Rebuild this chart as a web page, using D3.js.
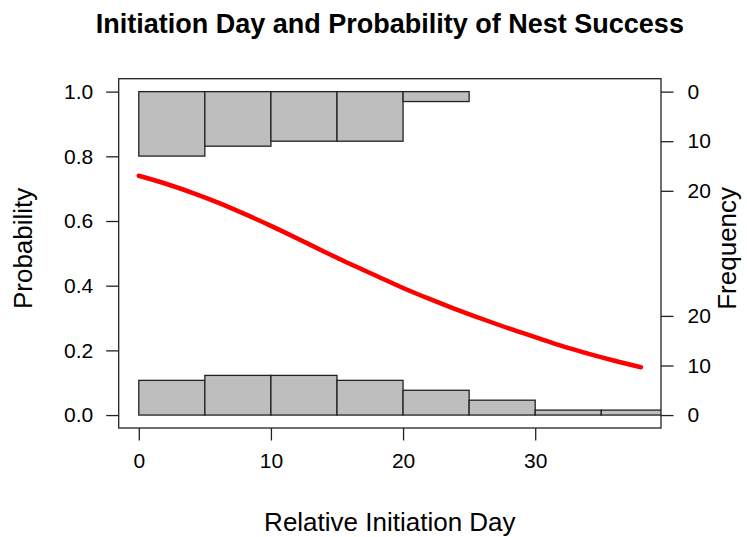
<!DOCTYPE html>
<html>
<head>
<meta charset="utf-8">
<script src="https://cdn.jsdelivr.net/npm/d3@7"></script>
<style>
  html, body { margin: 0; padding: 0; background: #fff; }
  svg { display: block; }
  text { font-family: "Liberation Sans", Arial, sans-serif; fill: #000; }
</style>
</head>
<body>
<script>
// ---- Data ----
const binEdges = [0, 5, 10, 15, 20, 25, 30, 35, 40];
const failCounts = [7, 8, 8, 7, 5, 3, 1, 1];      // bottom histogram (unsuccessful nests)
const successCounts = [13, 11, 10, 10, 2];        // top histogram (successful nests)
const curveDays = [0, 2, 4, 6, 8, 10, 12, 14, 16, 18, 20, 22, 24, 26, 28, 30, 32, 34, 36, 38];
const curveProb = [0.740, 0.716, 0.688, 0.657, 0.622, 0.585, 0.546, 0.506, 0.467, 0.430, 0.393,
                   0.359, 0.327, 0.297, 0.268, 0.241, 0.214, 0.190, 0.168, 0.148];
const xTicks = [0, 10, 20, 30];
const yTicks = [0, 0.2, 0.4, 0.6, 0.8, 1.0];
const freqTicks = [0, 10, 20];
const freqPerProb = 0.01533;   // one count in probability units

const W = 747, H = 537;
const L = 118.7, R = 661, T = 78.7, B = 428;
const tickFont = 21, labFont = 26;

const svg = d3.select("body").append("svg").attr("width", W).attr("height", H);

const x = d3.scaleLinear().domain([-1.52, 39.52]).range([L, R]);
const y = d3.scaleLinear().domain([-0.04, 1.04]).range([B, T]);

svg.append("clipPath").attr("id", "clip")
  .append("rect").attr("x", L).attr("y", T).attr("width", R - L).attr("height", B - T);

const plot = svg.append("g").attr("clip-path", "url(#clip)");

// bottom histogram
plot.selectAll("rect.fail").data(failCounts).enter().append("rect")
  .attr("class", "fail")
  .attr("x", (d, i) => x(binEdges[i]))
  .attr("width", (d, i) => x(binEdges[i + 1]) - x(binEdges[i]))
  .attr("y", d => y(d * freqPerProb))
  .attr("height", d => y(0) - y(d * freqPerProb))
  .attr("fill", "#bebebe").attr("stroke", "#222").attr("stroke-width", 1.3);

// top histogram
plot.selectAll("rect.succ").data(successCounts).enter().append("rect")
  .attr("class", "succ")
  .attr("x", (d, i) => x(binEdges[i]))
  .attr("width", (d, i) => x(binEdges[i + 1]) - x(binEdges[i]))
  .attr("y", y(1))
  .attr("height", d => y(1 - d * freqPerProb) - y(1))
  .attr("fill", "#bebebe").attr("stroke", "#222").attr("stroke-width", 1.3);

// fitted curve
const line = d3.line().x(d => x(d[0])).y(d => y(d[1])).curve(d3.curveMonotoneX);
plot.append("path")
  .datum(curveDays.map((d, i) => [d, curveProb[i]]))
  .attr("d", line)
  .attr("fill", "none").attr("stroke", "#ff0000").attr("stroke-width", 4.5)
  .attr("stroke-linecap", "round");

// box
svg.append("rect").attr("x", L).attr("y", T).attr("width", R - L).attr("height", B - T)
  .attr("fill", "none").attr("stroke", "#222").attr("stroke-width", 1.3);

const tickLen = 12.5;
function styleAxis(g) {
  g.selectAll("path.domain").remove();
  g.selectAll(".tick line").attr("stroke", "#222").attr("stroke-width", 1.3);
  g.selectAll(".tick text").style("font-size", tickFont + "px").attr("fill", "#000");
}

// bottom axis
svg.append("g").attr("transform", `translate(0,${B})`)
  .call(d3.axisBottom(x).tickValues(xTicks).tickFormat(d3.format("d")).tickSize(tickLen).tickPadding(13))
  .call(styleAxis);

// left axis
svg.append("g").attr("transform", `translate(${L},0)`)
  .call(d3.axisLeft(y).tickValues(yTicks).tickFormat(d3.format(".1f")).tickSize(tickLen).tickPadding(13))
  .call(styleAxis);

// right axis: two frequency scales
const fTop = d3.scaleLinear().domain([0, 20]).range([y(1), y(1 - 20 * freqPerProb)]);
const fBot = d3.scaleLinear().domain([0, 20]).range([y(0), y(20 * freqPerProb)]);
svg.append("g").attr("transform", `translate(${R},0)`)
  .call(d3.axisRight(fTop).tickValues(freqTicks).tickFormat(d3.format("d")).tickSize(tickLen).tickPadding(14))
  .call(styleAxis);
svg.append("g").attr("transform", `translate(${R},0)`)
  .call(d3.axisRight(fBot).tickValues(freqTicks).tickFormat(d3.format("d")).tickSize(tickLen).tickPadding(14))
  .call(styleAxis);

// titles
svg.append("text").attr("x", (L + R) / 2).attr("y", 33)
  .attr("text-anchor", "middle").style("font-size", "27px").style("font-weight", "bold")
  .text("Initiation Day and Probability of Nest Success");

svg.append("text").attr("x", (L + R) / 2).attr("y", 531)
  .attr("text-anchor", "middle").style("font-size", labFont + "px")
  .text("Relative Initiation Day");

svg.append("text").attr("transform", `translate(32,${(T + B) / 2 - 5}) rotate(-90)`)
  .attr("text-anchor", "middle").style("font-size", labFont + "px")
  .text("Probability");

svg.append("text").attr("transform", `translate(736,${(T + B) / 2 - 5}) rotate(-90)`)
  .attr("text-anchor", "middle").style("font-size", labFont + "px")
  .text("Frequency");
</script>
</body>
</html>
